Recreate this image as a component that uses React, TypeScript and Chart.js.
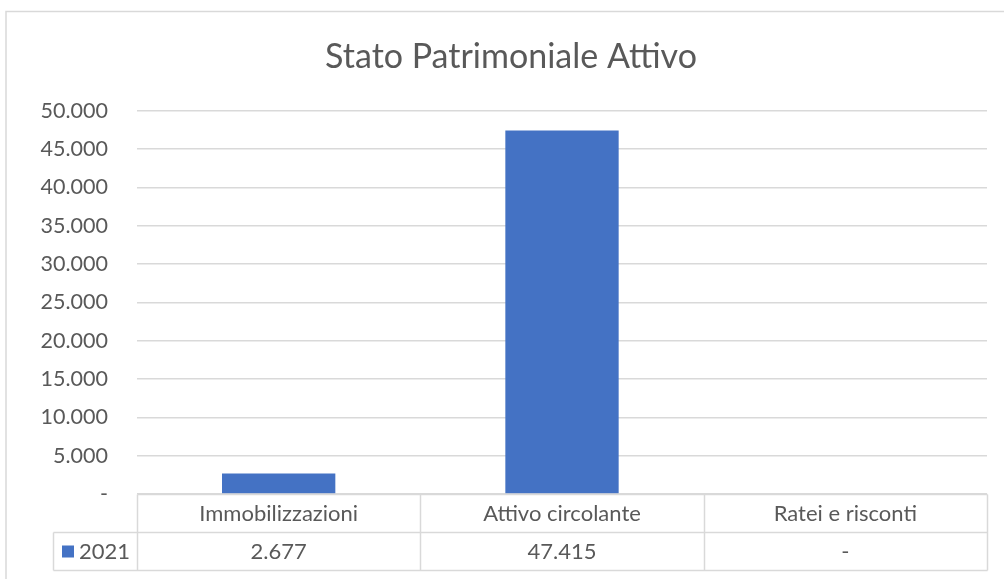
import React, { useEffect, useRef } from 'react';
import { Chart, registerables } from 'chart.js';

Chart.register(...registerables);

const chartTitle = 'Stato Patrimoniale Attivo';
const categories = ['Immobilizzazioni', 'Attivo circolante', 'Ratei e risconti'];
const seriesName = '2021';
const seriesValues = [2677, 47415, 0];
const yMin = 0;
const yMax = 50000;
const yStep = 5000;

const FONT = 'Lato, "Open Sans", sans-serif';
const TEXT = '#595959';
const GRID = '#d9d9d9';
const BAR = '#4472C4';

function fmt(v: number): string {
  if (v === 0) return '-';
  return String(Math.round(v)).replace(/\B(?=(\d{3})+(?!\d))/g, '.');
}

const framePlugin = {
  id: 'frame',
  beforeDraw(chart: any) {
    const { ctx, width, height } = chart;
    ctx.save();
    ctx.fillStyle = '#ffffff';
    ctx.fillRect(0, 0, width, height);
    ctx.strokeStyle = GRID;
    ctx.lineWidth = 1.5;
    ctx.beginPath();
    ctx.moveTo(6, height);
    ctx.lineTo(6, 11.5);
    ctx.lineTo(width, 11.5);
    ctx.stroke();
    ctx.restore();
  },
};

const tablePlugin = {
  id: 'dataTable',
  afterDraw(chart: any) {
    const { ctx, chartArea } = chart;
    const xs = chart.scales.x;
    const n = categories.length;
    const cw = (chartArea.right - chartArea.left) / n;
    const rowH = 38;
    const top = Math.round(chartArea.bottom) + 0.5;
    const mid = top + rowH;
    const bot = mid + rowH;
    const legendLeft = 53.5;
    const L = Math.round(chartArea.left) + 0.5;
    const R = Math.round(chartArea.right) + 0.5;
    const line = (x1: number, y1: number, x2: number, y2: number) => {
      ctx.beginPath();
      ctx.moveTo(x1, y1);
      ctx.lineTo(x2, y2);
      ctx.stroke();
    };
    ctx.save();
    ctx.strokeStyle = GRID;
    ctx.lineWidth = 1.5;
    line(L, top, R, top);
    line(legendLeft, mid, R, mid);
    line(legendLeft, bot, R, bot);
    for (let i = 0; i <= n; i++) {
      const xb = Math.round(chartArea.left + i * cw) + 0.5;
      line(xb, top, xb, bot);
    }
    line(legendLeft, mid, legendLeft, bot);

    ctx.fillStyle = TEXT;
    ctx.font = `22px ${FONT}`;
    ctx.textAlign = 'center';
    ctx.textBaseline = 'middle';
    categories.forEach((c, i) => {
      const cx = xs.getPixelForValue(i);
      ctx.fillText(c, cx, top + rowH / 2);
      ctx.fillText(fmt(seriesValues[i]), cx, mid + rowH / 2);
    });
    // legend cell
    ctx.fillStyle = BAR;
    ctx.fillRect(62, mid + rowH / 2 - 6, 12, 12);
    ctx.fillStyle = TEXT;
    ctx.textAlign = 'left';
    ctx.fillText(seriesName, 79, mid + rowH / 2);
    ctx.restore();
  },
};

export default function App() {
  const ref = useRef<HTMLCanvasElement | null>(null);
  useEffect(() => {
    document.body.style.margin = '0';
    if (!ref.current) return;
    const chart = new Chart(ref.current, {
      type: 'bar',
      data: {
        labels: categories,
        datasets: [
          {
            label: seriesName,
            data: seriesValues,
            backgroundColor: BAR,
            categoryPercentage: 1,
            barPercentage: 0.4,
          },
        ],
      },
      options: {
        responsive: false,
        animation: false,
        layout: { padding: { top: 0, right: 17, bottom: 85, left: 35 } },
        plugins: {
          legend: { display: false },
          tooltip: { enabled: false },
          title: {
            display: true,
            text: chartTitle,
            color: TEXT,
            font: { family: FONT, size: 34, weight: 'normal' },
            padding: { top: 37, bottom: 33 },
          },
        },
        scales: {
          x: { display: false },
          y: {
            min: yMin,
            max: yMax,
            afterFit: (s: any) => {
              s.width = 102;
            },
            border: { display: false },
            grid: { color: GRID, lineWidth: 1.5, drawTicks: false },
            ticks: {
              stepSize: yStep,
              padding: 29,
              color: TEXT,
              font: { family: FONT, size: 21.5 },
              callback: (v: any) => fmt(Number(v)),
            },
          },
        },
      },
      plugins: [framePlugin, tablePlugin],
    });
    return () => chart.destroy();
  }, []);
  return <canvas ref={ref} width={1004} height={579} style={{ display: 'block' }} />;
}
